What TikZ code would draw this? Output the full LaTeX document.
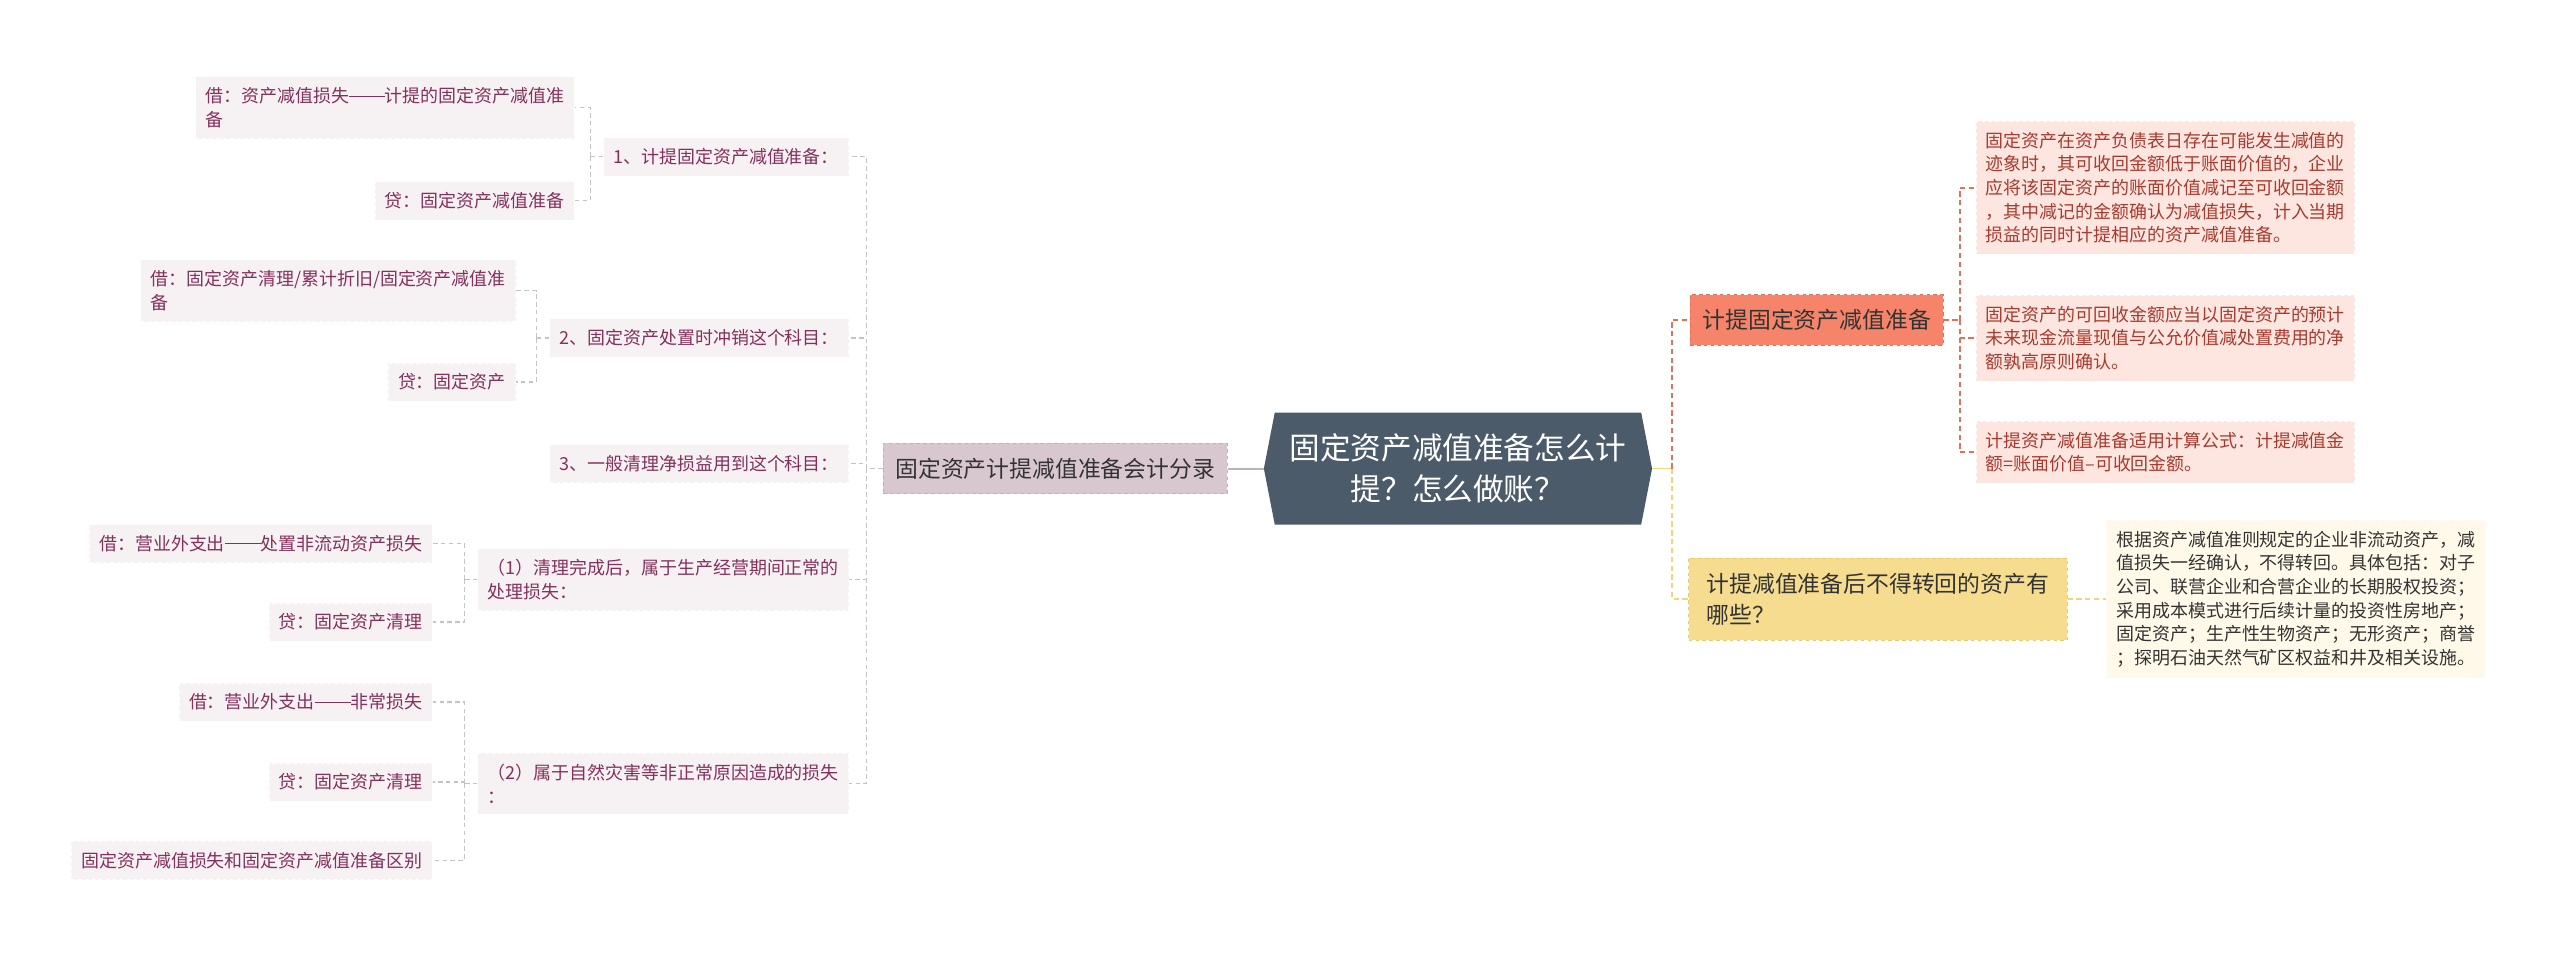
\documentclass[tikz,border=0pt]{standalone}
\usepackage{fontspec}
\setmainfont{Noto Sans CJK SC}
\usetikzlibrary{positioning, calc, shapes.symbols}
\definecolor{rootslate}{HTML}{4C5B6A}
\definecolor{lmauve}{HTML}{D9C7D0}
\definecolor{lmauvedk}{HTML}{C4AEBA}
\definecolor{lleaf}{HTML}{F6F1F3}
\definecolor{ltext}{HTML}{86305C}
\definecolor{lline}{HTML}{C4C4C4}
\definecolor{coral}{HTML}{F5846A}
\definecolor{coraldk}{HTML}{E86F57}
\definecolor{coralleaf}{HTML}{FDE6E0}
\definecolor{coraltext}{HTML}{A93A2E}
\definecolor{gold}{HTML}{F6DC8F}
\definecolor{golddk}{HTML}{ECCB6E}
\definecolor{goldleaf}{HTML}{FEF9E9}
\definecolor{goldline}{HTML}{F1D57A}
\definecolor{ink}{HTML}{333333}
\newcommand{\ddash}{\rule[0.34em]{2em}{0.06em}}

\begin{document}
\begin{tikzpicture}[x=0.5mm, y=-0.5mm,
  root/.style={signal, signal to=west and east, signal pointer angle=158,
    fill=rootslate, text=white, align=center, inner xsep=4.5mm, inner ysep=6.5mm,
    font=\fontsize{26.7pt}{35.6pt}\selectfont},
  topic/.style={rectangle, dashed, line width=0.8pt, inner xsep=3.75mm, inner ysep=4.5mm,
    align=left, text=ink, font=\fontsize{19.9pt}{27.7pt}\selectfont},
  note/.style={rectangle, dashed, line width=0.6pt, inner xsep=3mm, inner ysep=3.3mm,
    align=left, font=\fontsize{15.65pt}{20.6pt}\selectfont},
  ltopic/.style={topic, fill=lmauve, draw=lmauvedk},
  lnote/.style={note, fill=lleaf, draw=white, text=ltext},
  ktopic/.style={topic, fill=coral, draw=coraldk},
  knote/.style={note, fill=coralleaf, draw=white, text=coraltext},
  ytopic/.style={topic, fill=gold, draw=golddk, inner xsep=5.5mm},
  ynote/.style={note, fill=goldleaf, draw=white, text=ink},
  rootlink/.style={draw=lmauvedk, line width=1.8pt},
  lconn/.style={draw=lline, line width=1pt, dash pattern=on 1.4mm off 1mm},
  kconn/.style={draw=coraldk, line width=1.4pt, dash pattern=on 1.6mm off 1.1mm},
  yconn/.style={draw=goldline, line width=1.4pt, dash pattern=on 1.6mm off 1.1mm},
]

% Background
\fill[white] (0,0) rectangle (1568,588);
\useasboundingbox (0,0) rectangle (1568,588);

\node[root] (root) at (893,287) {固定资产减值准备怎么计\\提？怎么做账？};

% Left branch
\node[ltopic, anchor=east] (acct) at (752,287) {固定资产计提减值准备会计分录};
\node[lnote, anchor=east] (st1) at (520,96) {1、计提固定资产减值准备：};
\node[lnote, anchor=east] (st2) at (520,207) {2、固定资产处置时冲销这个科目：};
\node[lnote, anchor=east] (st3) at (520,284) {3、一般清理净损益用到这个科目：};
\node[lnote, anchor=east] (st4) at (520,355) {（1）清理完成后，属于生产经营期间正常的\\处理损失：};
\node[lnote, anchor=east] (st5) at (520,480) {（2）属于自然灾害等非正常原因造成的损失\\：};

\node[lnote, anchor=east] (dr1) at (352,66) {借：资产减值损失\ddash 计提的固定资产减值准\\备};
\node[lnote, anchor=east] (cr1) at (352,123) {贷：固定资产减值准备};
\node[lnote, anchor=east] (dr2) at (316,178) {借：固定资产清理/累计折旧/固定资产减值准\\备};
\node[lnote, anchor=east] (cr2) at (316,234) {贷：固定资产};
\node[lnote, anchor=east] (dr4) at (265,333) {借：营业外支出\ddash 处置非流动资产损失};
\node[lnote, anchor=east] (cr4) at (265,381) {贷：固定资产清理};
\node[lnote, anchor=east] (dr5) at (265,430) {借：营业外支出\ddash 非常损失};
\node[lnote, anchor=east] (cr5) at (265,479) {贷：固定资产清理};
\node[lnote, anchor=east] (df5) at (265,527) {固定资产减值损失和固定资产减值准备区别};

% Right branch
\node[ktopic, anchor=west] (prov) at (1035,196) {计提固定资产减值准备};
\node[knote, anchor=west] (pv1) at (1210,115) {固定资产在资产负债表日存在可能发生减值的\\迹象时，其可收回金额低于账面价值的，企业\\应将该固定资产的账面价值减记至可收回金额\\，其中减记的金额确认为减值损失，计入当期\\损益的同时计提相应的资产减值准备。};
\node[knote, anchor=west] (pv2) at (1210,207) {固定资产的可回收金额应当以固定资产的预计\\未来现金流量现值与公允价值减处置费用的净\\额孰高原则确认。};
\node[knote, anchor=west] (pv3) at (1210,277) {计提资产减值准备适用计算公式：计提减值金\\额=账面价值–可收回金额。};

\node[ytopic, anchor=west] (keep) at (1034,367) {计提减值准备后不得转回的资产有\\哪些？};
\node[ynote, anchor=west] (kp1) at (1290,367) {根据资产减值准则规定的企业非流动资产，减\\值损失一经确认，不得转回。具体包括：对子\\公司、联营企业和合营企业的长期股权投资；\\采用成本模式进行后续计量的投资性房地产；\\固定资产；生产性生物资产；无形资产；商誉\\；探明石油天然气矿区权益和井及相关设施。};

% Connectors, left
\draw[rootlink] (root.west) -- (acct.east);
\coordinate (jl) at ($(acct.west)+(-10,0)$);
\draw[lconn] (acct.west) -- (jl);
\foreach \n in {st1,st2,st3,st4,st5}
  \draw[lconn] (jl) |- (\n.east);

\coordinate (j1) at ($(st1.west)+(-8,0)$);
\draw[lconn] (st1.west) -- (j1);
\foreach \n in {dr1,cr1}
  \draw[lconn] (j1) |- (\n.east);

\coordinate (j2) at ($(st2.west)+(-8,0)$);
\draw[lconn] (st2.west) -- (j2);
\foreach \n in {dr2,cr2}
  \draw[lconn] (j2) |- (\n.east);

\coordinate (j4) at ($(st4.west)+(-8,0)$);
\draw[lconn] (st4.west) -- (j4);
\foreach \n in {dr4,cr4}
  \draw[lconn] (j4) |- (\n.east);

\coordinate (j5) at ($(st5.west)+(-8,0)$);
\draw[lconn] (st5.west) -- (j5);
\foreach \n in {dr5,cr5,df5}
  \draw[lconn] (j5) |- (\n.east);

% Connectors, right
\coordinate (jr) at ($(root.east)+(12,0)$);
\draw[yconn, solid] (root.east) -- (jr);
\draw[kconn] (jr) |- (prov.west);
\draw[yconn] (jr) |- (keep.west);

\coordinate (jk) at ($(prov.east)+(10,0)$);
\draw[kconn] (prov.east) -- (jk);
\foreach \n in {pv1,pv2,pv3}
  \draw[kconn] (jk) |- (\n.west);

\draw[yconn] (keep.east) -- (kp1.west);
\end{tikzpicture}
\end{document}
